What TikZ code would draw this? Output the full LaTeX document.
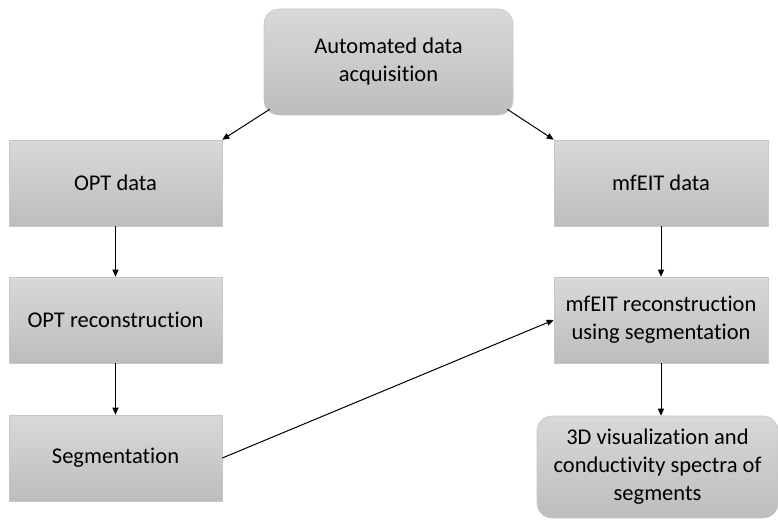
\documentclass[tikz,border=0pt]{standalone}
\usepackage{fontspec}
\setmainfont[Ligatures=NoCommon]{Carlito}
\usetikzlibrary{arrows.meta}
\tikzset{
  box/.style={draw=black!22, line width=0.6pt, top color=black!15, bottom color=black!26,
    align=center, inner sep=0pt, font=\fontsize{22.5}{28}\selectfont, text=black},
  rbox/.style={box, rounded corners=15pt},
  flow/.style={-{Triangle[length=7pt,width=6pt]}, line width=1pt, black}
}
\begin{document}
\begin{tikzpicture}[x=1pt,y=-1pt]
\useasboundingbox (0,0) rectangle (778,519);
% boxes, drawn by corners
\node[rbox, minimum width=249pt, minimum height=106pt] (acq) at (388.5,62) {Automated data\\acquisition};
\node[box, minimum width=213pt, minimum height=86pt] (optd) at (115.5,183) {OPT data};
\node[box, minimum width=213pt, minimum height=86pt] (optr) at (115.5,320) {OPT reconstruction};
\node[box, minimum width=213pt, minimum height=86pt] (seg) at (115.5,458) {Segmentation};
\node[box, minimum width=214pt, minimum height=86pt] (eitd) at (661,183) {mfEIT data};
\node[box, minimum width=214pt, minimum height=86pt] (eitr) at (661,320) {mfEIT reconstruction\\using segmentation};
\node[rbox, minimum width=241pt, minimum height=102pt] (viz) at (657.5,467) {3D visualization and\\conductivity spectra of\\segments};
% connectors
\draw[flow] (acq.south west) ++(6,-6) coordinate (a1) -- (optd.north east);
\draw[flow] (acq.south east) ++(-6,-6) coordinate (a2) -- (eitd.north west);
\draw[flow] (optd) -- (optr);
\draw[flow] (optr) -- (seg);
\draw[flow] (eitd) -- (eitr);
\draw[flow] (eitr.south) -- (eitr.south |- viz.north);
\draw[flow] (seg.east) -- (eitr.west);
\end{tikzpicture}
\end{document}
